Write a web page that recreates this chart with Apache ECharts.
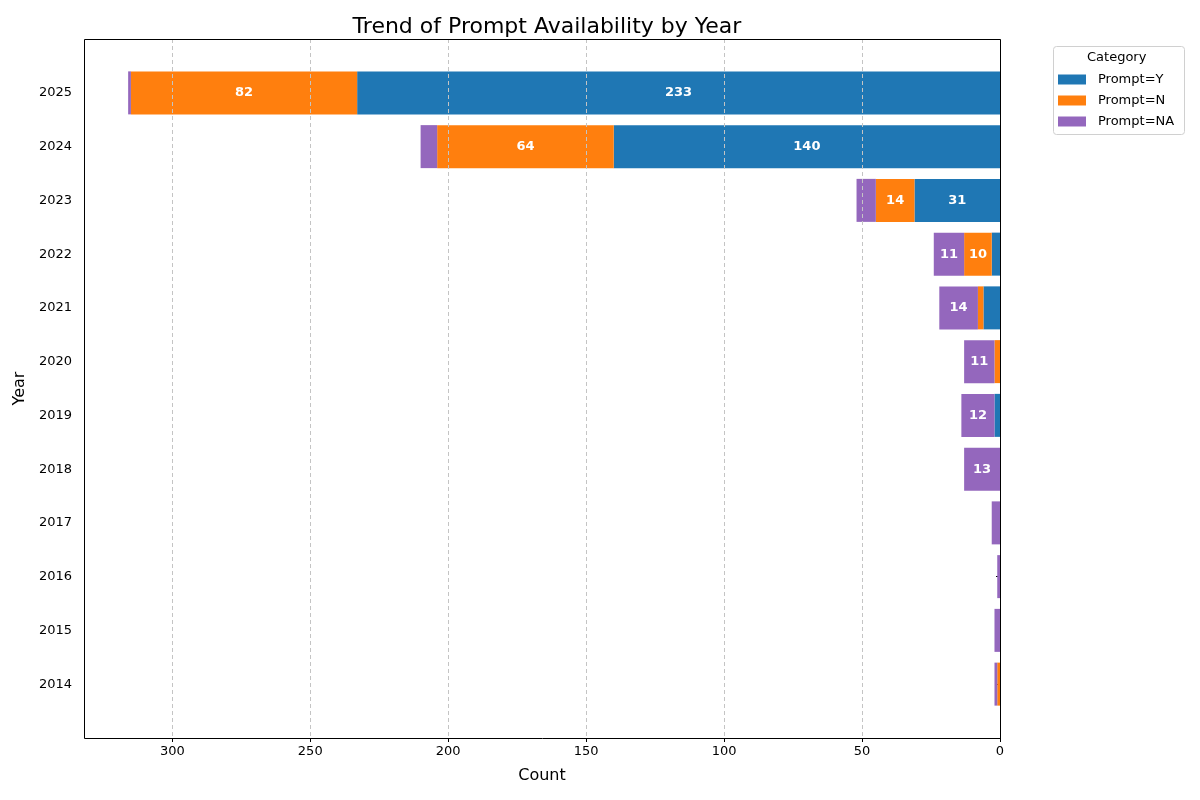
<!DOCTYPE html>
<html>
<head>
<meta charset="utf-8">
<script src="https://cdn.jsdelivr.net/npm/echarts@6/dist/echarts.min.js"></script>
<style>
  html, body { margin: 0; padding: 0; background: #fff; }
  #chart { width: 1200px; height: 800px; }
</style>
</head>
<body>
<div id="chart"></div>
<script>
// años de abajo hacia arriba
const years = ['2014','2015','2016','2017','2018','2019','2020','2021','2022','2023','2024','2025'];
const promptY  = [0, 0, 0, 0, 0, 2, 0, 6, 3, 31, 140, 233];
const promptN  = [1, 0, 0, 0, 0, 0, 2, 2, 10, 14, 64, 82];
const promptNA = [1, 2, 1, 3, 13, 12, 11, 14, 11, 7, 6, 1];
const xTicks = [0, 50, 100, 150, 200, 250, 300];

const FONT = 'DejaVu Sans';
const xMax = 332;

const chart = echarts.init(document.getElementById('chart'));

function barSeries(name, values, color) {
  return {
    name: name,
    type: 'bar',
    stack: 'total',
    xAxisIndex: 1,
    yAxisIndex: 1,
    barCategoryGap: '20%',
    itemStyle: { color: color },
    label: {
      position: 'inside',
      color: '#fff',
      fontWeight: 'bold',
      fontFamily: FONT,
      fontSize: 13
    },
    // etiqueta blanca solo en segmentos grandes
    data: values.map(v => ({ value: v, label: { show: v >= 10 } }))
  };
}

const option = {
  backgroundColor: '#ffffff',
  animation: false,
  textStyle: { fontFamily: FONT },
  title: {
    text: 'Trend of Prompt Availability by Year',
    left: 542,
    top: 11,
    textAlign: 'center',
    textStyle: { fontFamily: FONT, fontSize: 22, fontWeight: 'normal', color: '#000' }
  },
  grid: [
    // marco exterior (ejes de matplotlib)
    { left: 84, right: 200, top: 39, bottom: 62 },
    // área de barras con el margen de matplotlib
    { left: 84, right: 200, top: 66, bottom: 89 }
  ],
  xAxis: [
    {
      gridIndex: 0,
      type: 'value',
      min: 0,
      max: xMax,
      interval: 50,
      inverse: true,
      z: 5,
      name: 'Count',
      nameLocation: 'middle',
      nameGap: 30,
      nameTextStyle: { fontFamily: FONT, fontSize: 16, color: '#000' },
      axisLine: { show: false },
      axisTick: { show: true, length: 4, customValues: xTicks, lineStyle: { color: '#000' } },
      axisLabel: {
        color: '#000', fontFamily: FONT, fontSize: 13, margin: 7,
        customValues: xTicks
      },
      splitLine: { show: true, lineStyle: { color: '#c4c4c4', type: [4, 3], width: 1 } }
    },
    {
      gridIndex: 1,
      type: 'value',
      min: 0,
      max: xMax,
      inverse: true,
      show: false
    }
  ],
  yAxis: [
    { gridIndex: 0, type: 'value', show: false, min: 0, max: 1 },
    {
      gridIndex: 1,
      type: 'category',
      data: years,
      name: 'Year',
      nameLocation: 'middle',
      nameGap: 51,
      nameTextStyle: { fontFamily: FONT, fontSize: 16, color: '#000' },
      axisLine: { show: false },
      axisTick: { show: true, alignWithLabel: true, length: 4, lineStyle: { color: '#000' } },
      axisLabel: { color: '#000', fontFamily: FONT, fontSize: 13, margin: 12 },
      splitLine: { show: false }
    }
  ],
  legend: {
    orient: 'vertical',
    left: 1058,
    top: 73,
    padding: 0,
    icon: 'rect',
    itemWidth: 28,
    itemHeight: 10,
    itemGap: 8,
    textStyle: { fontFamily: FONT, fontSize: 13, color: '#000', padding: [0, 0, 0, 7] },
    data: ['Prompt=Y', 'Prompt=N', 'Prompt=NA']
  },
  graphic: [
    {
      // marco negro del área del gráfico
      type: 'rect',
      shape: { x: 84.5, y: 39.5, width: 916, height: 699 },
      style: { fill: 'none', stroke: '#000', lineWidth: 1 },
      z: 100
    },
    {
      type: 'rect',
      left: 1053,
      top: 46,
      shape: { width: 131, height: 88, r: 3 },
      style: { fill: 'rgba(255,255,255,0.8)', stroke: '#d0d0d0', lineWidth: 1 },
      z: -1
    },
    {
      type: 'text',
      left: 1087,
      top: 51,
      style: { text: 'Category', font: '13px "DejaVu Sans"', fill: '#000' }
    }
  ],
  series: [
    barSeries('Prompt=Y', promptY, '#1f77b4'),
    barSeries('Prompt=N', promptN, '#ff7f0e'),
    barSeries('Prompt=NA', promptNA, '#9467bd')
  ]
};

chart.setOption(option);
window.onresize = function () { chart.resize(); };
</script>
</body>
</html>
